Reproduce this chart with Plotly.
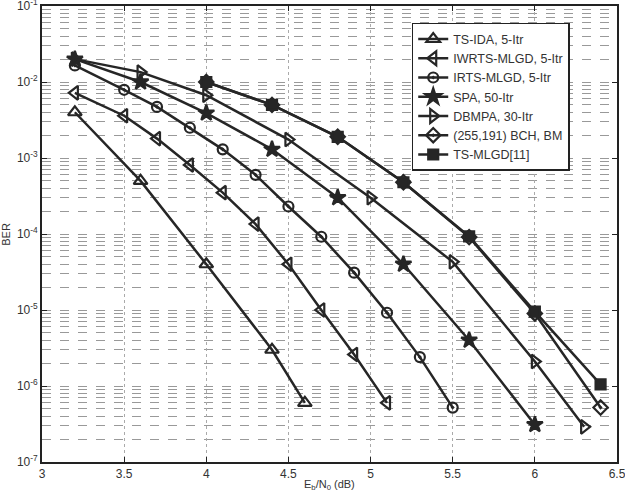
import plotly.graph_objects as go

ts_ida_x = [3.2, 3.6, 4.0, 4.4, 4.6]
ts_ida_y = [4.0e-3, 5.0e-4, 4.0e-5, 3.0e-6, 6.0e-7]

iwrts_x = [3.2, 3.5, 3.7, 3.9, 4.1, 4.3, 4.5, 4.7, 4.9, 5.1]
iwrts_y = [7.2e-3, 3.6e-3, 1.8e-3, 8.1e-4, 3.5e-4, 1.35e-4, 4.0e-5, 1.0e-5, 2.6e-6, 6.0e-7]

irts_x = [3.2, 3.5, 3.7, 3.9, 4.1, 4.3, 4.5, 4.7, 4.9, 5.1, 5.3, 5.5]
irts_y = [1.65e-2, 7.9e-3, 4.7e-3, 2.5e-3, 1.3e-3, 6.0e-4, 2.3e-4, 9.2e-5, 3.1e-5, 9.2e-6, 2.4e-6, 5.2e-7]

spa_x = [3.2, 3.6, 4.0, 4.4, 4.8, 5.2, 5.6, 6.0]
spa_y = [2.0e-2, 1.0e-2, 3.9e-3, 1.3e-3, 3.0e-4, 4.0e-5, 4.0e-6, 3.1e-7]

dbmpa_x = [3.2, 3.6, 4.0, 4.5, 5.0, 5.5, 6.0, 6.3]
dbmpa_y = [2.0e-2, 1.35e-2, 6.7e-3, 1.75e-3, 3.0e-4, 4.3e-5, 2.1e-6, 2.9e-7]

bch_x = [4.0, 4.4, 4.8, 5.2, 5.6, 6.0, 6.4]
bch_y = [1.0e-2, 5.0e-3, 1.9e-3, 4.8e-4, 9.1e-5, 9.0e-6, 5.2e-7]

tsmlgd_x = [4.0, 4.4, 4.8, 5.2, 5.6, 6.0, 6.4]
tsmlgd_y = [1.0e-2, 5.0e-3, 1.9e-3, 4.8e-4, 9.3e-5, 9.5e-6, 1.05e-6]

names = ["TS-IDA, 5-Itr", "IWRTS-MLGD, 5-Itr", "IRTS-MLGD, 5-Itr", "SPA, 50-Itr",
         "DBMPA, 30-Itr", "(255,191) BCH, BM", "TS-MLGD[11]"]

x_ticks = [3, 3.5, 4, 4.5, 5, 5.5, 6, 6.5]
y_tickvals = [1e-7, 1e-6, 1e-5, 1e-4, 1e-3, 1e-2, 1e-1]
y_ticktext = ["10<sup>-7</sup>", "10<sup>-6</sup>", "10<sup>-5</sup>", "10<sup>-4</sup>",
              "10<sup>-3</sup>", "10<sup>-2</sup>", "10<sup>-1</sup>"]

LC = "#262626"
series = [
    (ts_ida_x, ts_ida_y, "triangle-up-open", 12),
    (iwrts_x, iwrts_y, "triangle-left-open", 12),
    (irts_x, irts_y, "circle-open-dot", 10),
    (spa_x, spa_y, "star", 12),
    (dbmpa_x, dbmpa_y, "triangle-right-open", 12),
    (bch_x, bch_y, "diamond-open-dot", 11),
    (tsmlgd_x, tsmlgd_y, "square", 10),
]

fig = go.Figure()
for (xs, ys, sym, sz), nm in zip(series, names):
    fig.add_trace(go.Scatter(
        x=xs, y=ys, name=nm, mode="lines+markers",
        line=dict(color=LC, width=2.5),
        marker=dict(symbol=sym, size=sz, color=LC, line=dict(color=LC, width=2.2)),
    ))

fig.update_layout(
    width=625, height=495,
    margin=dict(l=42, r=8, t=6, b=33),
    paper_bgcolor="white", plot_bgcolor="white",
    font=dict(family="Liberation Sans, Arial, sans-serif", size=12, color="#333"),
    showlegend=True,
    legend=dict(x=0.643, y=0.963, xanchor="left", yanchor="top",
                bgcolor="white", bordercolor="#222", borderwidth=1.5,
                font=dict(size=12.5, color="#333"), tracegroupgap=0,
                itemwidth=30),
)
fig.update_xaxes(
    range=[3, 6.5], tickvals=x_ticks, ticktext=[str(v) for v in x_ticks],
    showline=True, linecolor="#222", linewidth=1.8, mirror="ticks",
    ticks="inside", ticklen=5, tickcolor="#222", ticklabeloverflow="allow",
    automargin=False,
    showgrid=True, gridcolor="#aaa", griddash="dot", gridwidth=1,
    zeroline=False,
)
fig.update_yaxes(
    type="log", range=[-7, -1], tickvals=y_tickvals, ticktext=y_ticktext,
    showline=True, linecolor="#222", linewidth=1.8, mirror="ticks",
    ticks="inside", ticklen=5, tickcolor="#222", ticklabeloverflow="allow",
    automargin=False,
    showgrid=True, gridcolor="#999", griddash="dash", gridwidth=1,
    minor=dict(showgrid=True, gridcolor="#999", griddash="dash", gridwidth=1,
               dtick="D1", ticks=""),
    zeroline=False,
)
fig.add_annotation(text="E<sub>b</sub>/N<sub>0</sub> (dB)", xref="paper", yref="paper",
                   x=0.5, y=-0.071, yanchor="bottom", showarrow=False,
                   font=dict(size=11, color="#333"))
fig.add_annotation(text="BER", xref="paper", yref="paper", textangle=-90,
                   x=-0.063, y=0.5, xanchor="center", yanchor="middle", showarrow=False,
                   font=dict(size=11, color="#333"))

fig.write_html("out.html")
